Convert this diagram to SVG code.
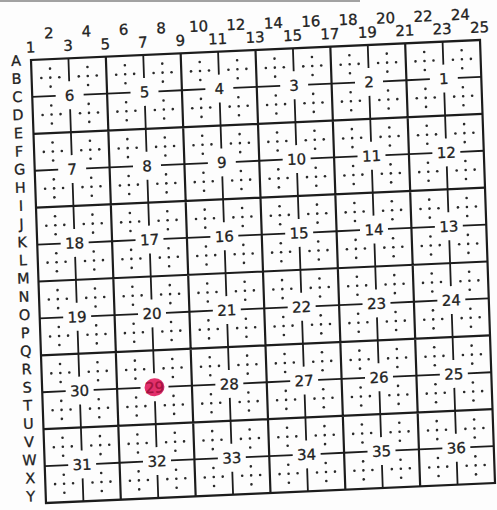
<svg xmlns="http://www.w3.org/2000/svg" xmlns:xlink="http://www.w3.org/1999/xlink" width="497" height="510" viewBox="0 0 497 510">
<style>
.lbl{font-family:"DejaVu Sans","Liberation Sans",sans-serif;font-size:15px;fill:#222;stroke:#222;stroke-width:0.3;text-anchor:middle}
.row{font-size:14.5px}
.num{font-family:"DejaVu Sans","Liberation Sans",sans-serif;font-size:15px;fill:#222;stroke:#222;stroke-width:0.3;text-anchor:middle}
.ln{stroke:#1c1c1c;stroke-width:1.8;fill:none}
.bd{stroke:#1c1c1c;stroke-width:2.2;fill:none}
.dot{fill:#2a2a2a}
</style>
<defs>
<g id="cross">
<circle class="dot" cx="0" cy="0" r="1.3"/>
<circle class="dot" cx="-9" cy="0" r="1.3"/>
<circle class="dot" cx="9" cy="0" r="1.3"/>
<circle class="dot" cx="0" cy="-9" r="1.3"/>
<circle class="dot" cx="0" cy="9" r="1.3"/>
</g>
<g id="sec">
<path class="ln" d="M0 37H23.5M51.5 37H75M37.5 0V23M37.5 51V74"/>
<use xlink:href="#cross" x="18.75" y="18.5"/>
<use xlink:href="#cross" x="56.25" y="18.5"/>
<use xlink:href="#cross" x="18.75" y="55.5"/>
<use xlink:href="#cross" x="56.25" y="55.5"/>
</g>
</defs>
<rect width="497" height="510" fill="#fdfdfd"/>
<line x1="0" y1="1" x2="360" y2="1" stroke="#666" stroke-width="2" opacity="0.6"/>
<g transform="matrix(0.99778 -0.04444 0.03378 0.99775 31 60)">
<g id="col-labels" class="lbl">
<text x="0" y="-7.5">1</text><text x="18.75" y="-21">2</text><text x="37.5" y="-7.5">3</text><text x="56.25" y="-21">4</text><text x="75" y="-7.5">5</text><text x="93.75" y="-21">6</text><text x="112.5" y="-7.5">7</text><text x="131.25" y="-21">8</text><text x="150" y="-7.5">9</text><text x="168.75" y="-21">10</text><text x="187.5" y="-7.5">11</text><text x="206.25" y="-21">12</text><text x="225" y="-7.5">13</text><text x="243.75" y="-21">14</text><text x="262.5" y="-7.5">15</text><text x="281.25" y="-21">16</text><text x="300" y="-7.5">17</text><text x="318.75" y="-21">18</text><text x="337.5" y="-7.5">19</text><text x="356.25" y="-21">20</text><text x="375" y="-7.5">21</text><text x="393.75" y="-21">22</text><text x="412.5" y="-7.5">23</text><text x="431.25" y="-21">24</text><text x="450" y="-7.5">25</text>
</g>
<g id="row-labels" class="lbl row">
<text x="-15" y="5">A</text><text x="-15" y="23.2">B</text><text x="-15" y="41.4">C</text><text x="-15" y="59.6">D</text><text x="-15" y="77.8">E</text><text x="-15" y="96">F</text><text x="-15" y="114.2">G</text><text x="-15" y="132.4">H</text><text x="-15" y="150.6">I</text><text x="-15" y="168.8">J</text><text x="-15" y="187">K</text><text x="-15" y="205.2">L</text><text x="-15" y="223.4">M</text><text x="-15" y="241.6">N</text><text x="-15" y="259.8">O</text><text x="-15" y="278">P</text><text x="-15" y="296.2">Q</text><text x="-15" y="314.4">R</text><text x="-15" y="332.6">S</text><text x="-15" y="350.8">T</text><text x="-15" y="369">U</text><text x="-15" y="387.2">V</text><text x="-15" y="405.4">W</text><text x="-15" y="423.6">X</text><text x="-15" y="441.8">Y</text>
</g>
<g id="grid">
<rect class="bd" x="0" y="0" width="450" height="444" stroke-width="2.6"/>
<path class="bd" d="M75 0V444M150 0V444M225 0V444M300 0V444M375 0V444M0 74H450M0 148H450M0 222H450M0 296H450M0 370H450"/>
</g>
<g id="section-6" transform="translate(0,0)"><use xlink:href="#sec"/><text class="num" x="37.5" y="42.5">6</text></g>
<g id="section-5" transform="translate(75,0)"><use xlink:href="#sec"/><text class="num" x="37.5" y="42.5">5</text></g>
<g id="section-4" transform="translate(150,0)"><use xlink:href="#sec"/><text class="num" x="37.5" y="42.5">4</text></g>
<g id="section-3" transform="translate(225,0)"><use xlink:href="#sec"/><text class="num" x="37.5" y="42.5">3</text></g>
<g id="section-2" transform="translate(300,0)"><use xlink:href="#sec"/><text class="num" x="37.5" y="42.5">2</text></g>
<g id="section-1" transform="translate(375,0)"><use xlink:href="#sec"/><text class="num" x="37.5" y="42.5">1</text></g>
<g id="section-7" transform="translate(0,74)"><use xlink:href="#sec"/><text class="num" x="37.5" y="42.5">7</text></g>
<g id="section-8" transform="translate(75,74)"><use xlink:href="#sec"/><text class="num" x="37.5" y="42.5">8</text></g>
<g id="section-9" transform="translate(150,74)"><use xlink:href="#sec"/><text class="num" x="37.5" y="42.5">9</text></g>
<g id="section-10" transform="translate(225,74)"><use xlink:href="#sec"/><text class="num" x="37.5" y="42.5">10</text></g>
<g id="section-11" transform="translate(300,74)"><use xlink:href="#sec"/><text class="num" x="37.5" y="42.5">11</text></g>
<g id="section-12" transform="translate(375,74)"><use xlink:href="#sec"/><text class="num" x="37.5" y="42.5">12</text></g>
<g id="section-18" transform="translate(0,148)"><use xlink:href="#sec"/><text class="num" x="37.5" y="42.5">18</text></g>
<g id="section-17" transform="translate(75,148)"><use xlink:href="#sec"/><text class="num" x="37.5" y="42.5">17</text></g>
<g id="section-16" transform="translate(150,148)"><use xlink:href="#sec"/><text class="num" x="37.5" y="42.5">16</text></g>
<g id="section-15" transform="translate(225,148)"><use xlink:href="#sec"/><text class="num" x="37.5" y="42.5">15</text></g>
<g id="section-14" transform="translate(300,148)"><use xlink:href="#sec"/><text class="num" x="37.5" y="42.5">14</text></g>
<g id="section-13" transform="translate(375,148)"><use xlink:href="#sec"/><text class="num" x="37.5" y="42.5">13</text></g>
<g id="section-19" transform="translate(0,222)"><use xlink:href="#sec"/><text class="num" x="37.5" y="42.5">19</text></g>
<g id="section-20" transform="translate(75,222)"><use xlink:href="#sec"/><text class="num" x="37.5" y="42.5">20</text></g>
<g id="section-21" transform="translate(150,222)"><use xlink:href="#sec"/><text class="num" x="37.5" y="42.5">21</text></g>
<g id="section-22" transform="translate(225,222)"><use xlink:href="#sec"/><text class="num" x="37.5" y="42.5">22</text></g>
<g id="section-23" transform="translate(300,222)"><use xlink:href="#sec"/><text class="num" x="37.5" y="42.5">23</text></g>
<g id="section-24" transform="translate(375,222)"><use xlink:href="#sec"/><text class="num" x="37.5" y="42.5">24</text></g>
<g id="section-30" transform="translate(0,296)"><use xlink:href="#sec"/><text class="num" x="37.5" y="42.5">30</text></g>
<g id="section-29" transform="translate(75,296)"><use xlink:href="#sec"/><ellipse cx="37.5" cy="37" rx="10" ry="9" fill="#e2306b"/><text class="num" x="37.5" y="42.5" style="fill:#a3123f;stroke:#a3123f">29</text></g>
<g id="section-28" transform="translate(150,296)"><use xlink:href="#sec"/><text class="num" x="37.5" y="42.5">28</text></g>
<g id="section-27" transform="translate(225,296)"><use xlink:href="#sec"/><text class="num" x="37.5" y="42.5">27</text></g>
<g id="section-26" transform="translate(300,296)"><use xlink:href="#sec"/><text class="num" x="37.5" y="42.5">26</text></g>
<g id="section-25" transform="translate(375,296)"><use xlink:href="#sec"/><text class="num" x="37.5" y="42.5">25</text></g>
<g id="section-31" transform="translate(0,370)"><use xlink:href="#sec"/><text class="num" x="37.5" y="42.5">31</text></g>
<g id="section-32" transform="translate(75,370)"><use xlink:href="#sec"/><text class="num" x="37.5" y="42.5">32</text></g>
<g id="section-33" transform="translate(150,370)"><use xlink:href="#sec"/><text class="num" x="37.5" y="42.5">33</text></g>
<g id="section-34" transform="translate(225,370)"><use xlink:href="#sec"/><text class="num" x="37.5" y="42.5">34</text></g>
<g id="section-35" transform="translate(300,370)"><use xlink:href="#sec"/><text class="num" x="37.5" y="42.5">35</text></g>
<g id="section-36" transform="translate(375,370)"><use xlink:href="#sec"/><text class="num" x="37.5" y="42.5">36</text></g>
</g>
</svg>
